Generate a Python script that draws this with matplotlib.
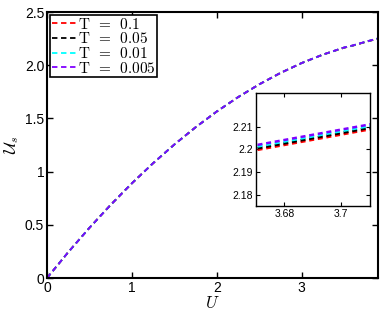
import matplotlib
matplotlib.use('Agg')
import matplotlib.pyplot as plt

plt.rcParams['font.family'] = ['Liberation Sans', 'DejaVu Sans']
plt.rcParams['mathtext.fontset'] = 'cm'

# U grid (denser near the zoomed window)
U = [0, 0.25, 0.5, 0.75, 1.0, 1.25, 1.5, 1.75, 2.0, 2.25, 2.5, 2.75, 3.0,
     3.25, 3.5, 3.6, 3.65, 3.7, 3.75, 3.8, 3.9]

us_t01 = [0, 0.2424, 0.4716, 0.6874, 0.89, 1.0789, 1.2544, 1.4164, 1.565,
          1.6994, 1.8203, 1.9273, 2.0205, 2.0997, 2.1648,
          2.1836, 2.1951, 2.2066, 2.2180, 2.2290, 2.2500]
us_t005 = [0, 0.2424, 0.4716, 0.6874, 0.89, 1.0789, 1.2544, 1.4164, 1.565,
           1.6994, 1.8203, 1.9273, 2.0205, 2.0997, 2.1655,
           2.1843, 2.1958, 2.2073, 2.2187, 2.2297, 2.2507]
us_t001 = [0, 0.2424, 0.4716, 0.6874, 0.89, 1.0789, 1.2544, 1.4164, 1.565,
           1.6994, 1.8203, 1.9273, 2.0205, 2.0997, 2.1663,
           2.1851, 2.1966, 2.2081, 2.2195, 2.2305, 2.2515]
us_t0005 = [0, 0.2424, 0.4716, 0.6874, 0.89, 1.0789, 1.2544, 1.4164, 1.565,
            1.6994, 1.8203, 1.9273, 2.0205, 2.0997, 2.1670,
            2.1858, 2.1973, 2.2088, 2.2202, 2.2312, 2.2522]

t_values = ['0.1', '0.05', '0.01', '0.005']
labels = [r'$\mathrm{T}\ \,=\ \,' + t + '$' for t in t_values]
colors = ['#ff0000', '#000000', '#00ffff', '#8000ff']
series = [us_t01, us_t005, us_t001, us_t0005]

fig = plt.figure(figsize=(3.82, 3.14), dpi=100)
ax = fig.add_axes([0.123, 0.1146, 0.8665, 0.847])

dash = (0, (3, 2))
for y, c, lab in zip(series, colors, labels):
    ax.plot(U, y, color=c, lw=1.3, linestyle=dash, label=lab)

ax.set_xlim(0, 3.9)
ax.set_ylim(0, 2.5)
ax.set_xticks([0, 1, 2, 3])
ax.set_xticklabels(['0', '1', '2', '3'])
ax.set_yticks([0, 0.5, 1, 1.5, 2, 2.5])
ax.set_yticklabels(['0', '0.5', '1', '1.5', '2.0', '2.5'])
ax.tick_params(direction='in', top=True, right=True, length=4, width=1,
               labelsize=10, pad=2)
for s in ax.spines.values():
    s.set_linewidth(1.5)
ax.set_xlabel(r'$U$', fontsize=12, labelpad=0)
ax.set_ylabel(r'$\mathcal{U}_s$', fontsize=12, labelpad=3)

leg = ax.legend(loc='upper left', fontsize=11, handlelength=1.6,
                handletextpad=0.1, labelspacing=-0.02, borderpad=0.1,
                borderaxespad=0.2, fancybox=False, framealpha=1)
leg.get_frame().set_edgecolor('black')
leg.get_frame().set_linewidth(1.2)

# inset
axi = fig.add_axes([0.670, 0.344, 0.298, 0.36])
for y, c in zip(series, colors):
    axi.plot(U, y, color=c, lw=1.8, linestyle=(0, (2, 1.5)))
axi.set_xlim(3.67, 3.71)
axi.set_ylim(2.175, 2.225)
axi.set_xticks([3.68, 3.7])
axi.set_xticklabels(['3.68', '3.7'])
axi.set_yticks([2.18, 2.19, 2.2, 2.21])
axi.set_yticklabels(['2.18', '2.19', '2.2', '2.21'])
axi.tick_params(direction='in', top=True, right=True, length=3, width=0.8,
                labelsize=7.5, pad=2)
for s in axi.spines.values():
    s.set_linewidth(1.0)

fig.savefig('out.png', dpi=100)
